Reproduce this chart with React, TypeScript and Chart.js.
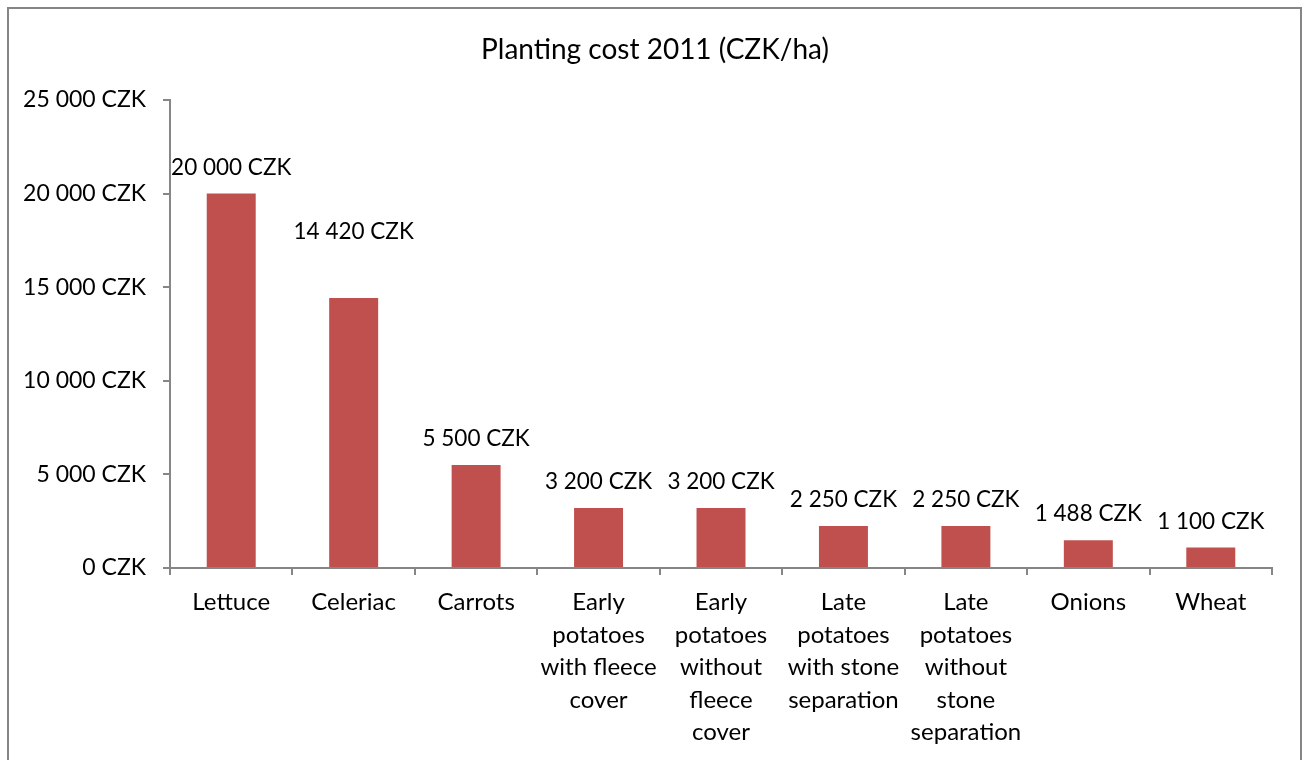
import React, { useEffect, useRef } from "react";
import { Chart, registerables } from "chart.js";

Chart.register(...registerables);

const title = "Planting cost 2011 (CZK/ha)";
const categories: (string | string[])[] = [
  "Lettuce",
  "Celeriac",
  "Carrots",
  ["Early", "potatoes", "with fleece", "cover"],
  ["Early", "potatoes", "without", "fleece", "cover"],
  ["Late", "potatoes", "with stone", "separation"],
  ["Late", "potatoes", "without", "stone", "separation"],
  "Onions",
  "Wheat",
];
const costs = [20000, 14420, 5500, 3200, 3200, 2250, 2250, 1488, 1100];
const yMax = 25000;
const yStep = 5000;

const FONT = "Lato, 'Open Sans', sans-serif";
const AXIS = "#868686";
// extra lift (px) of individual data labels, as placed in the original
const LABEL_LIFT = [0, 40, 0, 0, 0, 0, 0, 0, 0];

function fmt(v: number): string {
  const s = Math.round(v).toString();
  return s.replace(/\B(?=(\d{3})+(?!\d))/g, " ") + " CZK";
}

const framePlugin = {
  id: "frame",
  beforeDraw(chart: any) {
    const ctx = chart.ctx;
    ctx.save();
    ctx.fillStyle = "#ffffff";
    ctx.fillRect(0, 0, chart.width, chart.height);
    ctx.strokeStyle = AXIS;
    ctx.lineWidth = 2;
    ctx.strokeRect(8, 8, 1293, 800);
    ctx.fillStyle = "#000000";
    ctx.font = `28px ${FONT}`;
    ctx.textAlign = "center";
    ctx.textBaseline = "middle";
    ctx.fillText(title, 655, 50);
    ctx.restore();
  },
};

const labelPlugin = {
  id: "barLabels",
  afterDatasetsDraw(chart: any) {
    const ctx = chart.ctx;
    const meta = chart.getDatasetMeta(0);
    ctx.save();
    ctx.fillStyle = "#000000";
    ctx.font = `22.5px ${FONT}`;
    ctx.textAlign = "center";
    ctx.textBaseline = "middle";
    meta.data.forEach((bar: any, i: number) => {
      ctx.fillText(fmt(costs[i]), bar.x, bar.y - 26 - (LABEL_LIFT[i] || 0));
    });
    ctx.restore();
  },
};

export default function App() {
  const ref = useRef<HTMLCanvasElement | null>(null);
  useEffect(() => {
    if (!ref.current) return;
    const chart = new Chart(ref.current, {
      type: "bar",
      data: {
        labels: categories,
        datasets: [
          {
            data: costs,
            backgroundColor: "#C0504D",
            barPercentage: 0.4,
            categoryPercentage: 1,
          },
        ],
      },
      options: {
        animation: false,
        responsive: true,
        maintainAspectRatio: false,
        layout: { padding: { left: 20, right: 33, top: 100, bottom: 0 } },
        plugins: {
          legend: { display: false },
          title: { display: false },
          tooltip: { enabled: false },
        },
        scales: {
          x: {
            grid: {
              display: true,
              drawOnChartArea: false,
              drawTicks: true,
              tickLength: 7,
              color: AXIS,
              lineWidth: 2,
            },
            border: { display: true, color: AXIS, width: 2 },
            ticks: {
              color: "#000000",
              font: { family: FONT, size: 24, lineHeight: 1.355 },
              maxRotation: 0,
              minRotation: 0,
              autoSkip: false,
              padding: 11,
            },
            afterFit: (scale: any) => {
              scale.height = 192;
            },
          },
          y: {
            min: 0,
            max: yMax,
            grid: {
              display: true,
              drawOnChartArea: false,
              drawTicks: true,
              tickLength: 7,
              color: AXIS,
              lineWidth: 2,
            },
            border: { display: true, color: AXIS, width: 2 },
            ticks: {
              stepSize: yStep,
              color: "#000000",
              font: { family: FONT, size: 23 },
              padding: 17,
              callback: (v: any) => fmt(Number(v)),
            },
            afterFit: (scale: any) => {
              scale.width = 150;
            },
          },
        },
      },
      plugins: [framePlugin, labelPlugin],
    });
    return () => chart.destroy();
  }, []);
  return (
    <div style={{ position: "absolute", left: 0, top: 0, width: 1305, height: 760 }}>
      <canvas ref={ref} />
    </div>
  );
}
